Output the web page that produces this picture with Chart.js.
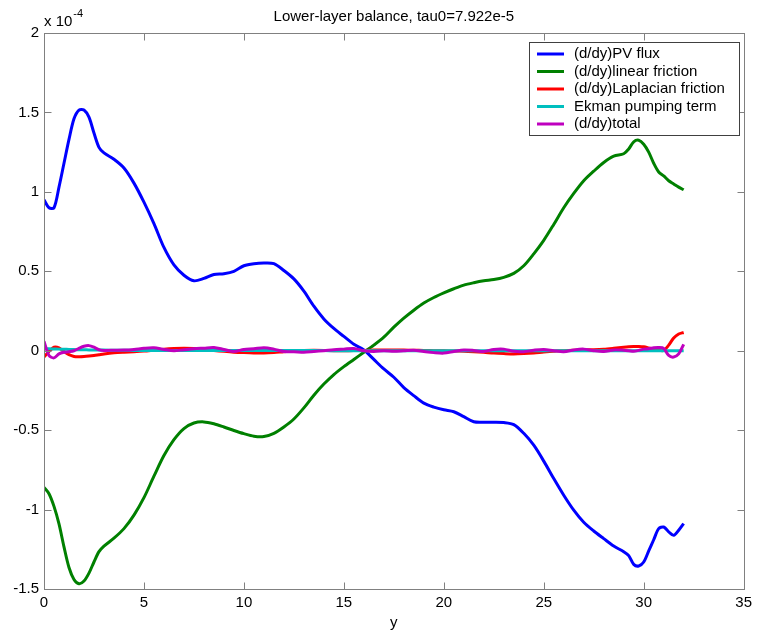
<!DOCTYPE html>
<html>
<head>
<meta charset="utf-8">
<script src="https://cdn.jsdelivr.net/npm/chart.js@4.4.0/dist/chart.umd.min.js"></script>
<style>
  body { margin: 0; background: #fff; }
  canvas { display: block; }
</style>
</head>
<body>
<canvas id="chart-balance" width="757" height="635"></canvas>
<script>
// values are in units of 1e-4 (axis multiplier shown as "x 10^-4")
var yPos = [0, 0.25, 0.5, 0.75, 1, 1.25, 1.5, 1.75, 2, 2.25, 2.5, 2.75, 3,
  3.5, 4, 4.5, 5, 5.5, 6, 6.5, 7, 7.5, 8, 8.5, 9, 9.5, 10, 10.5, 11, 11.5, 12,
  12.5, 13, 13.5, 14, 14.5, 15, 15.5, 16, 16.5, 17, 17.5, 18, 18.5, 19, 19.5, 20,
  20.5, 21, 21.5, 22, 22.5, 23, 23.5, 24, 24.5, 25, 25.5, 26, 26.5, 27, 27.5, 28, 28.5,
  29, 29.25, 29.5, 29.75, 30, 30.25, 30.5, 30.75, 31, 31.25, 31.5, 31.75, 32];

var pvFlux = [0.95, 0.90, 0.90, 1.03, 1.18, 1.33, 1.46, 1.515, 1.515, 1.47, 1.37, 1.28, 1.245,
  1.205, 1.15, 1.055, 0.935, 0.80, 0.65, 0.54, 0.475, 0.44, 0.455, 0.48, 0.485, 0.50, 0.535, 0.548, 0.552, 0.548, 0.505,
  0.452, 0.375, 0.28, 0.20, 0.14, 0.09, 0.04, 0.005, -0.055, -0.115, -0.167, -0.232, -0.283, -0.33, -0.355, -0.372,
  -0.384, -0.415, -0.447, -0.45, -0.45, -0.452, -0.465, -0.52, -0.595, -0.695, -0.805, -0.91, -1.004, -1.08, -1.135, -1.183, -1.23,
  -1.265, -1.29, -1.345, -1.355, -1.33, -1.26, -1.19, -1.12, -1.11, -1.14, -1.162, -1.13, -1.088];

var linFriction = [-0.86, -0.90, -0.98, -1.09, -1.235, -1.365, -1.44, -1.467, -1.45, -1.40, -1.33, -1.265, -1.23,
  -1.18, -1.12, -1.035, -0.925, -0.79, -0.66, -0.56, -0.49, -0.455, -0.448, -0.46, -0.48, -0.502, -0.522, -0.538, -0.54, -0.52, -0.48,
  -0.43, -0.36, -0.28, -0.21, -0.15, -0.10, -0.055, -0.01, 0.035, 0.085, 0.148, 0.205, 0.255, 0.30, 0.335, 0.364,
  0.39, 0.413, 0.428, 0.44, 0.448, 0.462, 0.487, 0.535, 0.61, 0.695, 0.795, 0.90, 0.99, 1.07, 1.13, 1.185, 1.225,
  1.24, 1.27, 1.315, 1.325, 1.30, 1.25, 1.18, 1.125, 1.10, 1.07, 1.05, 1.03, 1.013];

var lapFriction = [-0.04, -0.005, 0.022, 0.018, -0.005, -0.025, -0.036, -0.038, -0.037, -0.034, -0.03, -0.025, -0.02,
  -0.013, -0.009, -0.006, -0.002, 0.004, 0.01, 0.014, 0.016, 0.014, 0.009, 0.002, -0.004, -0.009, -0.012, -0.014, -0.014, -0.011, -0.006,
  -0.002, 0.002, 0.003, 0.002, 0.0, 0.0, 0.001, 0.002, 0.004, 0.005, 0.005, 0.004, 0.003, 0.002, 0.0, -0.001,
  -0.002, -0.003, -0.006, -0.01, -0.015, -0.018, -0.02, -0.018, -0.014, -0.008, -0.003, 0.0, 0.003, 0.005, 0.006, 0.009, 0.015,
  0.022, 0.025, 0.027, 0.027, 0.025, 0.018, 0.01, 0.003, 0.002, 0.035, 0.08, 0.105, 0.115];

var ekman = [0.012, 0.012, 0.011, 0.01, 0.009, 0.008, 0.007, 0.006, 0.006, 0.005, 0.005, 0.004, 0.004,
  0.003, 0.003, 0.002, 0.002, 0.002, 0.002, 0.001, 0.001, 0.001, 0.001, 0.001, 0.001, 0.001, 0.001, 0.001, 0.001, 0.001, 0.001,
  0.001, 0.001, 0.001, 0.001, 0.0, 0.0, 0.0, 0.0, 0.0, 0.0, 0.0, 0.0, 0.0, 0.0, 0.0, 0.0,
  0.0, 0.0, 0.0, 0.0, 0.0, 0.0, 0.0, 0.0, 0.0, 0.0, 0.0, 0.0, 0.0, 0.0, 0.0, 0.0, 0.0,
  0.0, 0.0, 0.0, 0.0, 0.0, 0.0, 0.0, 0.0, 0.0, 0.0, 0.0, 0.0, 0.0];

var total = [0.06, -0.03, -0.045, -0.02, -0.01, -0.006, 0.0, 0.015, 0.028, 0.032, 0.022, 0.006, 0.002,
  0.003, 0.004, 0.008, 0.015, 0.018, 0.008, 0.0, 0.006, 0.012, 0.016, 0.02, 0.008, -0.005, 0.008, 0.012, 0.019, 0.01, -0.005,
  -0.006, -0.01, -0.005, 0.0, 0.006, 0.01, 0.014, 0.0, -0.005, 0.0, -0.003, 0.0, 0.003, -0.005, -0.012, -0.015,
  -0.005, 0.005, 0.002, -0.005, 0.008, 0.01, -0.004, -0.006, 0.003, 0.008, 0.0, -0.006, 0.005, 0.01, 0.0, -0.005, 0.005,
  0.003, 0.0, -0.004, 0.002, 0.01, 0.012, 0.018, 0.02, 0.015, -0.03, -0.04, -0.02, 0.04];

var seriesNames = ["(d/dy)PV flux", "(d/dy)linear friction", "(d/dy)Laplacian friction", "Ekman pumping term", "(d/dy)total"];
var seriesColors = ["#0000ff", "#008000", "#ff0000", "#00bfbf", "#bf00bf"];
var seriesValues = [pvFlux, linFriction, lapFriction, ekman, total];

var titleText = "Lower-layer balance, tau0=7.922e-5";
var xLabel = "y";
var FONT = "'Liberation Sans', Arial, Helvetica, sans-serif";

function toPoints(vals) {
  var pts = [];
  for (var i = 0; i < yPos.length; i++)
    pts.push({x: yPos[i], y: vals[i]});
  return pts;
}

// box, inward ticks, title, labels and legend in MATLAB style
var matlabFrame = {
  id: 'matlabFrame',
  afterDraw: function(chart) {
    var ctx = chart.ctx;
    var a = chart.chartArea;
    var xs = chart.scales.x, ys = chart.scales.y;
    var L = Math.round(a.left) + 0.5, R = Math.round(a.right) + 0.5;
    var T = Math.round(a.top) + 0.5, B = Math.round(a.bottom) + 0.5;
    var tl = 7;
    ctx.save();
    ctx.strokeStyle = '#808080';
    ctx.lineWidth = 1;
    ctx.strokeRect(L, T, R - L, B - T);
    ctx.beginPath();
    xs.ticks.forEach(function(t) {
      var px = Math.round(xs.getPixelForValue(t.value)) + 0.5;
      ctx.moveTo(px, B); ctx.lineTo(px, B - tl);
      ctx.moveTo(px, T); ctx.lineTo(px, T + tl);
    });
    ys.ticks.forEach(function(t) {
      var py = Math.round(ys.getPixelForValue(t.value)) + 0.5;
      ctx.moveTo(L, py); ctx.lineTo(L + tl, py);
      ctx.moveTo(R, py); ctx.lineTo(R - tl, py);
    });
    ctx.stroke();

    ctx.fillStyle = '#000';
    ctx.font = '15px ' + FONT;
    ctx.textAlign = 'center';
    ctx.textBaseline = 'middle';
    var cx = (a.left + a.right) / 2;
    ctx.fillText(titleText, cx, 17);
    ctx.fillText(xLabel, cx, 623);

    // exponent label
    ctx.textAlign = 'left';
    ctx.fillText("x 10", a.left, 22);
    var w = ctx.measureText("x 10").width;
    ctx.font = '11px ' + FONT;
    ctx.fillText("-4", a.left + w + 1, 14);

    // legend
    var lx = 529.5, ly = 42.5, lw = 210, lh = 93;
    ctx.fillStyle = '#fff';
    ctx.fillRect(lx, ly, lw, lh);
    ctx.strokeStyle = '#404040';
    ctx.lineWidth = 1;
    ctx.strokeRect(lx, ly, lw, lh);
    ctx.font = '15px ' + FONT;
    ctx.textBaseline = 'middle';
    for (var i = 0; i < seriesNames.length; i++) {
      var ry = 54 + i * 17.5;
      ctx.strokeStyle = seriesColors[i];
      ctx.lineWidth = 3;
      ctx.beginPath();
      ctx.moveTo(537, ry); ctx.lineTo(564, ry);
      ctx.stroke();
      ctx.fillStyle = '#000';
      ctx.fillText(seriesNames[i], 574, ry);
    }
    ctx.restore();
  }
};

function initChart() {
  var ctx = document.getElementById("chart-balance").getContext("2d");
  var datasets = [];
  for (var i = 0; i < seriesNames.length; i++) {
    datasets.push({
      label: seriesNames[i],
      data: toPoints(seriesValues[i]),
      borderColor: seriesColors[i],
      backgroundColor: seriesColors[i],
      borderWidth: 3,
      pointRadius: 0,
      tension: 0.3,
      fill: false,
      order: seriesNames.length - i,
    });
  }
  new Chart(ctx, {
    type: "line",
    data: { datasets: datasets },
    plugins: [matlabFrame],
    options: {
      responsive: false,
      animation: false,
      devicePixelRatio: 1,
      layout: { padding: { top: 33, right: 10, left: 0, bottom: 0 } },
      plugins: { legend: { display: false }, tooltip: { enabled: false } },
      scales: {
        x: {
          type: 'linear',
          min: 0, max: 35,
          afterFit: function(s) { s.height = 46; },
          grid: { display: false, drawTicks: false },
          border: { display: false },
          ticks: {
            stepSize: 5, padding: 5, color: '#000', maxRotation: 0,
            font: { family: FONT, size: 15 },
          },
        },
        y: {
          type: 'linear',
          min: -1.5, max: 2,
          afterFit: function(s) { s.width = 44; },
          grid: { display: false, drawTicks: false },
          border: { display: false },
          ticks: {
            stepSize: 0.5, padding: 5, color: '#000',
            font: { family: FONT, size: 15 },
            callback: function(v) { return String(Math.round(v * 10) / 10); },
          },
        },
      },
    },
  });
}

initChart();
</script>
</body>
</html>
